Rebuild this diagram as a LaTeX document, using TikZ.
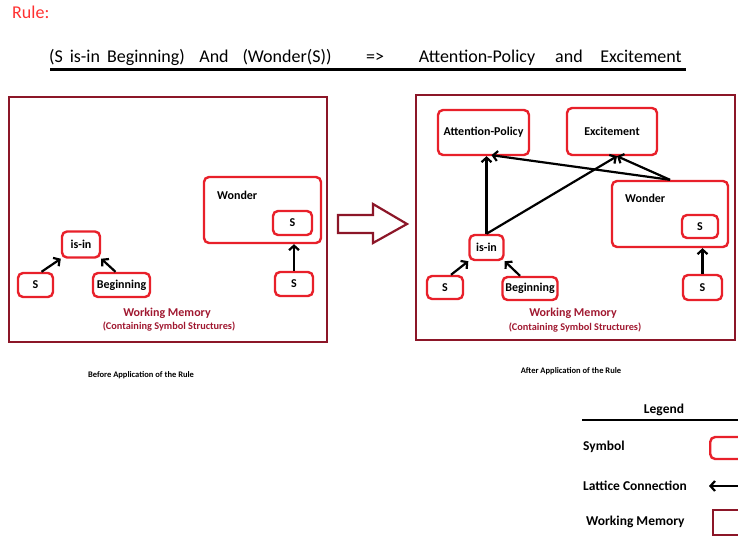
\documentclass[tikz,border=0pt]{standalone}
\usepackage{fontspec}
\setmainfont{Carlito}
\usetikzlibrary{arrows.meta}
\definecolor{symred}{RGB}{232,32,42}
\definecolor{wmred}{RGB}{140,22,40}
\definecolor{wmtext}{RGB}{160,24,48}
\definecolor{rulered}{RGB}{255,48,48}
\tikzset{
  sym/.style={draw=symred, line width=2.4pt, rounded corners=5pt, fill=white, inner sep=0pt,
              font=\fontsize{12}{13}\selectfont\bfseries},
  wm/.style={draw=wmred, line width=2.3pt, inner sep=0pt},
  arr/.style={draw=black, line width=2.2pt, -{Straight Barb[length=4.5pt,width=10pt]}},
  wmlabel/.style={text=wmtext, font=\fontsize{12}{13}\selectfont\bfseries},
  wmsub/.style={text=wmtext, font=\fontsize{10.3}{11}\selectfont\bfseries},
  caption/.style={font=\fontsize{8.5}{9}\selectfont\bfseries},
  legtext/.style={font=\fontsize{13.5}{14}\selectfont\bfseries, anchor=west, inner sep=0pt},
  ruletext/.style={font=\fontsize{18}{19}\selectfont, inner sep=0pt, anchor=base}
}
\newcommand{\gp}{\hspace{7pt}}
\begin{document}
\begin{tikzpicture}[x=1pt,y=-1pt]
\useasboundingbox (0,0) rectangle (738,537);
% Rule line
\node[ruletext, text=rulered, anchor=base west] (rule) at (12,19) {Rule:};
\node[ruletext] (r1) at (117,63) {(S\gp is-in\gp Beginning)};
\node[ruletext] (r2) at (214,63) {And};
\node[ruletext] (r3) at (287,63) {(Wonder(S))};
\node[ruletext] (r4) at (375,63) {=>};
\node[ruletext] (r5) at (477,63) {Attention-Policy};
\node[ruletext] (r6) at (569,63) {and};
\node[ruletext] (r7) at (641,63) {Excitement};
\coordinate (ulA) at (50,69.5);
\coordinate (ulB) at (686,69.5);
\draw[line width=2.6pt] (ulA) -- (ulB);

% Left working memory
\node[wm, minimum width=318pt, minimum height=245pt] (wmL) at (168,219.5) {};
\node[sym, minimum width=35pt, minimum height=24pt] (lS) at (35.5,285) {S};
\node[sym, minimum width=57pt, minimum height=24pt] (lBeg) at (121.5,285) {Beginning};
\node[sym, minimum width=38pt, minimum height=26pt] (lisin) at (81,244.5) {is-in};
\node[sym, minimum width=117pt, minimum height=66pt] (lWon) at (262.5,210) {};
\node[font=\fontsize{12}{13}\selectfont\bfseries, anchor=west, inner sep=0pt] (lWonT) at (217,195) {Wonder};
\node[sym, minimum width=39pt, minimum height=24pt] (lWS) at (292.5,223) {S};
\node[sym, minimum width=38pt, minimum height=24pt] (lS2) at (294,284) {S};
\draw[arr] ([xshift=6pt]lS.north) -- (lisin.south west);
\draw[arr] ([xshift=-6pt]lBeg.north) -- (lisin.south east);
\draw[arr] (lS2.north) -- (lS2.north |- lWon.south);
\node[wmlabel] (lwmt) at (167,313) {Working Memory};
\node[wmsub] (lwms) at (169,327) {(Containing Symbol Structures)};
\node[caption] (capL) at (141,375) {Before Application of the Rule};

% Big arrow
\draw[draw=wmred, line width=2.2pt, line join=miter] (338,215) -- (373,215) -- (373,204) -- (407,224) -- (373,243) -- (373,233) -- (338,233) -- cycle;

% Right working memory
\node[wm, minimum width=319pt, minimum height=245pt] (wmR) at (575.5,217.5) {};
\node[sym, minimum width=91pt, minimum height=45pt] (rAP) at (483.5,132.5) {Attention-Policy};
\node[sym, minimum width=90pt, minimum height=47pt] (rEx) at (612,131.5) {Excitement};
\node[sym, minimum width=116pt, minimum height=66pt] (rWon) at (670,214) {};
\node[font=\fontsize{12}{13}\selectfont\bfseries, anchor=west, inner sep=0pt] (rWonT) at (625,198) {Wonder};
\node[sym, minimum width=36pt, minimum height=23pt] (rWS) at (700,226.5) {S};
\node[sym, minimum width=39pt, minimum height=25pt] (rS2) at (702.5,287.5) {S};
\node[sym, minimum width=34pt, minimum height=25pt] (risin) at (486.5,247.5) {is-in};
\node[sym, minimum width=36pt, minimum height=23pt] (rS) at (445,287.5) {S};
\node[sym, minimum width=55pt, minimum height=23pt] (rBeg) at (530,288.5) {Beginning};
\draw[arr] ([xshift=6pt]rS.north) -- (risin.south west);
\draw[arr] ([xshift=-10pt]rBeg.north) -- (risin.south east);
\draw[arr] (rS2.north) -- (rS2.north |- rWon.south);
\draw[arr] (risin.north) -- (risin.north |- rAP.south);
\draw[arr] (risin.north) -- ([xshift=5pt]rEx.south);
\draw[arr] (rWon.north) -- ([xshift=8pt,yshift=1pt]rAP.south);
\draw[arr] (rWon.north) -- ([xshift=5pt]rEx.south);
\node[wmlabel] (rwmt) at (573,313) {Working Memory};
\node[wmsub] (rwms) at (575,328) {(Containing Symbol Structures)};
\node[caption] (capR) at (571,371) {After Application of the Rule};

% Legend
\node[font=\fontsize{13.5}{14}\selectfont\bfseries] (leg) at (664,410) {Legend};
\coordinate (lgA) at (582,420);
\coordinate (lgB) at (738,420);
\draw[line width=1.8pt] (lgA) -- (lgB);
\node[legtext] (legSym) at (583,447) {Symbol};
\node[legtext] (legLat) at (583,486) {Lattice Connection};
\node[legtext] (legWM) at (586,522) {Working Memory};
\begin{scope}
\clip (0,0) rectangle (738,537);
\node[sym, minimum width=50pt, minimum height=22pt, anchor=west] (legSymBox) at (709,448) {};
\coordinate (latA) at (745,486);
\coordinate (latB) at (709,486);
\draw[arr] (latA) -- (latB);
\node[wm, minimum width=50pt, minimum height=25pt, anchor=west] (legWMBox) at (712,522.5) {};
\end{scope}
\end{tikzpicture}
\end{document}
